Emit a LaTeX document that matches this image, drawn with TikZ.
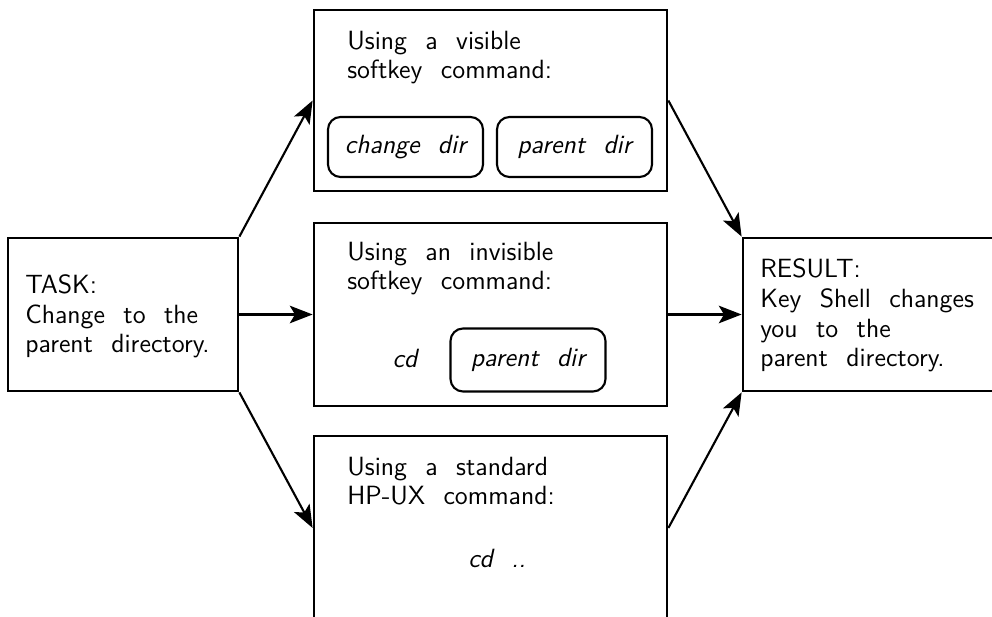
\documentclass[tikz,border=0pt]{standalone}
\usepackage{tikz}
\usetikzlibrary{arrows.meta,positioning}

\newcommand{\cadtext}{\fontsize{15}{17}\sffamily\selectfont\spaceskip=0.7em plus 0.1em\relax}
\newcommand{\cadital}{\cadtext\itshape}

\begin{document}
\begin{tikzpicture}[
    x=0.02cm, y=-0.02cm,
    panel/.style={draw=black, line width=1.6pt, inner sep=0pt},
    softkey/.style={draw=black, line width=1.2pt, rounded corners=0.25cm, inner sep=0pt,
        minimum width=3.1cm, minimum height=1.2cm, font=\cadital},
    label/.style={font=\cadtext, align=left, inner sep=0pt, anchor=base west},
    flow/.style={-{Stealth[length=13pt,width=10pt,inset=3pt]}, line width=1.2pt}
]
\useasboundingbox (0,0) rectangle (992,617);
% TASK (left)
\node[panel, minimum width=4.6cm, minimum height=3.06cm] (task) at (123,314.5) {};
\node[label] (tasktxt) at (25,353) {TASK:\\Change to the\\parent directory.};
% VISIBLE SOFTKEY (top)
\node[panel, minimum width=7.06cm, minimum height=3.62cm] (visible) at (490.5,100.5) {};
\node[label] (visibletxt) at (347,79) {Using a visible\\softkey command:};
\node[softkey] (changedir) at (405.5,147) {change dir};
\node[softkey] (parentdir) at (574.5,147) {parent dir};
% INVISIBLE SOFTKEY (middle)
\node[panel, minimum width=7.06cm, minimum height=3.66cm] (invisible) at (490.5,314.5) {};
\node[label] (invisibletxt) at (347,290) {Using an invisible\\softkey command:};
\node[font=\cadital, inner sep=0pt, anchor=base] (cdkey) at (405,368) {cd};
\node[softkey, minimum height=1.26cm] (parentkey) at (528,360) {parent dir};
% HP-UX COMMAND (bottom, runs off the page)
\node[panel, minimum width=7.06cm, minimum height=3.68cm] (hpux) at (490.5,528) {};
\node[label] (hpuxtxt) at (347,505) {Using a standard\\HP-UX command:};
\node[font=\cadital, inner sep=0pt, anchor=base] (cddots) at (497,568) {cd ..};
% RESULT (right, runs off the page)
\node[panel, minimum width=6.14cm, minimum height=3.06cm] (result) at (896.5,314.5) {};
\node[label] (resulttxt) at (760,367) {RESULT:\\Key Shell changes\\you to the\\parent directory.};
% ARROWS
\draw[flow] (task.north east) -- (visible.west);
\draw[flow] (task.east) -- (invisible.west);
\draw[flow] (task.south east) -- (hpux.west);
\draw[flow] (visible.east) -- (result.north west);
\draw[flow] (invisible.east) -- (result.west);
\draw[flow] (hpux.east) -- (result.south west);
\end{tikzpicture}
\end{document}
